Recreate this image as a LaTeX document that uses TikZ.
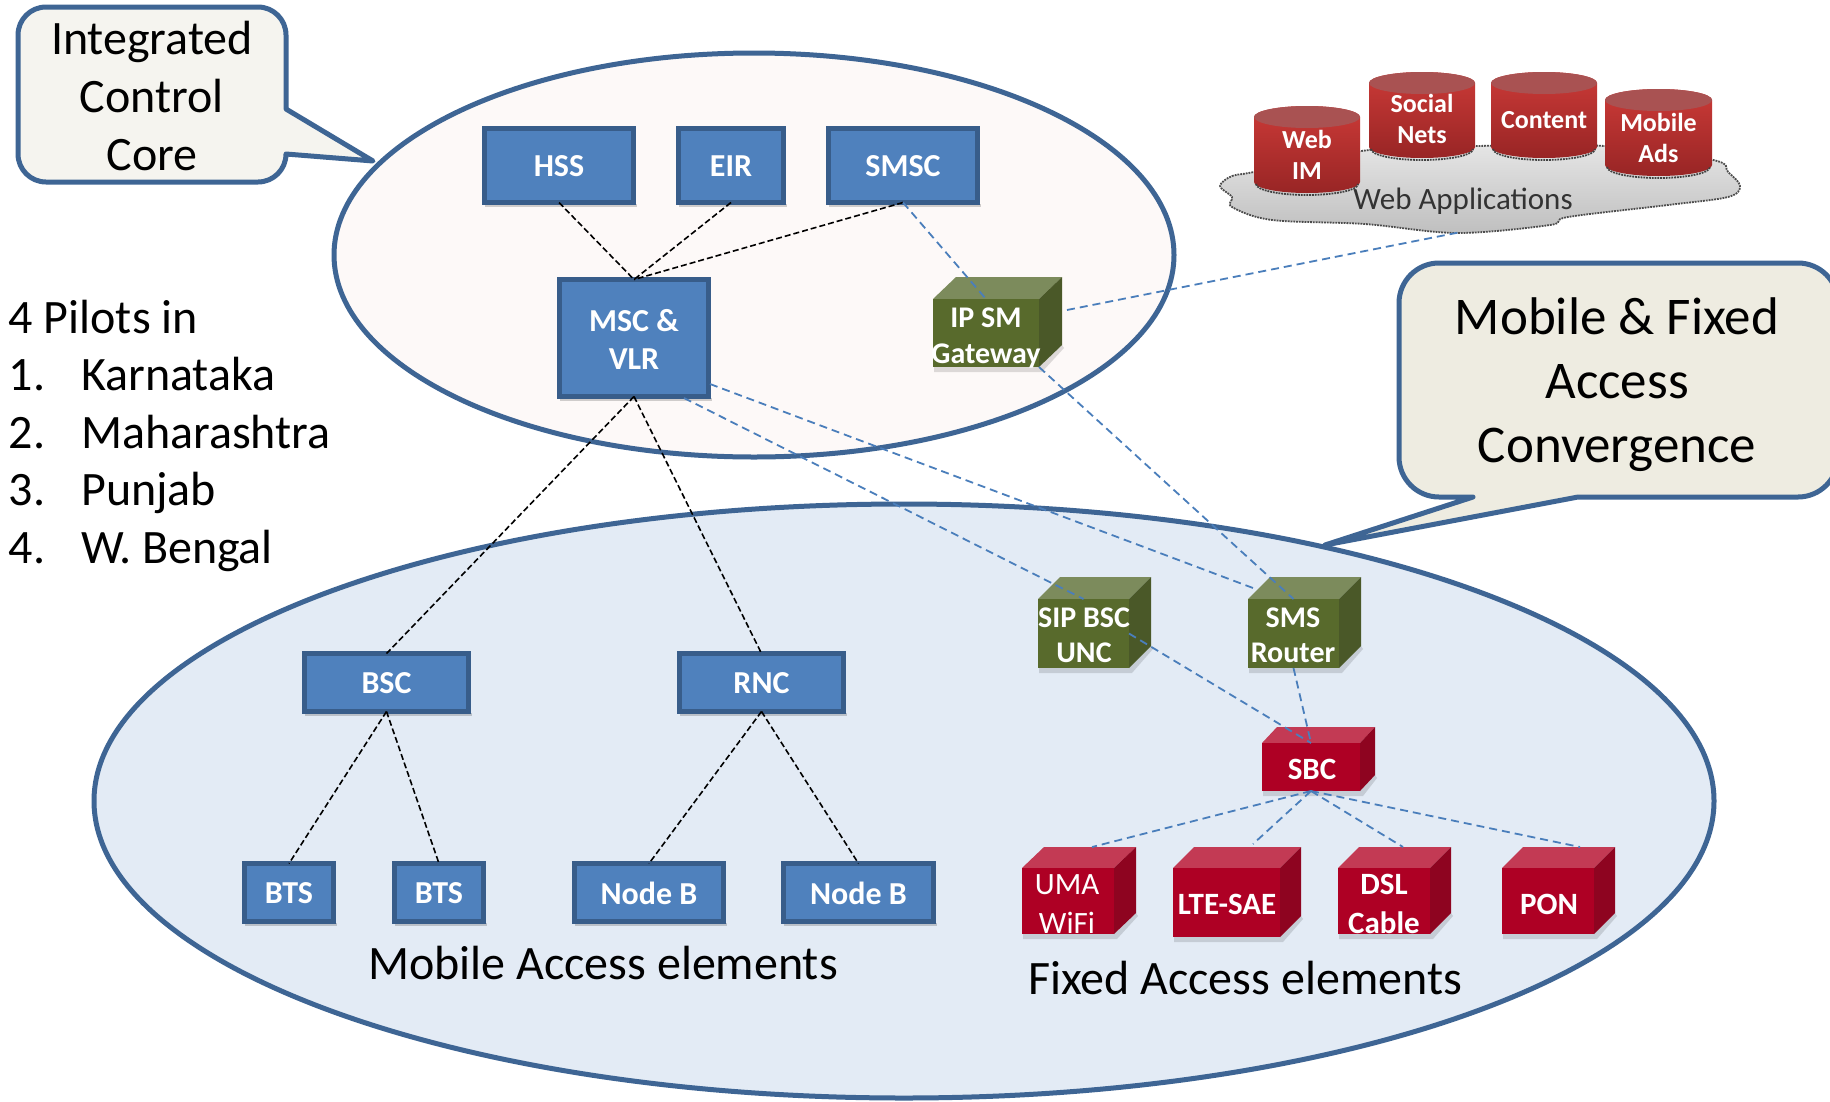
\documentclass[tikz,border=0pt]{standalone}
\usepackage{fontspec}
\setmainfont{Carlito}
\usetikzlibrary{shapes.geometric}
\definecolor{edgeblue}{HTML}{3E6594}
\definecolor{boxfill}{HTML}{4F81BD}
\definecolor{boxedge}{HTML}{385D8A}
\definecolor{linkblue}{HTML}{4A7EBB}
\definecolor{olivefront}{HTML}{586A2C}
\definecolor{olivetop}{HTML}{7C8B5C}
\definecolor{oliveside}{HTML}{4A5828}
\definecolor{redfront}{HTML}{AE0024}
\definecolor{redtop}{HTML}{C33A54}
\definecolor{redside}{HTML}{8E0420}
\definecolor{corefill}{HTML}{FDF9F8}
\definecolor{accessfill}{HTML}{E3EBF5}
\definecolor{calloutA}{HTML}{F5F4EF}
\definecolor{calloutB}{HTML}{EEECE1}
\definecolor{cylhi}{HTML}{CB3A37}
\definecolor{cyllo}{HTML}{982525}
\definecolor{cyltop}{HTML}{A95252}
\tikzset{
  zone/.style={ellipse,draw=edgeblue,line width=5pt,inner sep=0pt,outer sep=0pt},
  callout/.style={draw=edgeblue,line width=5pt,line join=round},
  bluebox/.style={draw=boxedge,fill=boxfill,line width=5pt,inner sep=0pt,outer sep=0pt},
  boxtxt/.style={text=white,inner sep=0pt,align=center,font=\fontsize{32}{38}\selectfont\bfseries},
  face/.style={inner sep=0pt,outer sep=0pt},
  greentxt/.style={text=white,align=center,inner sep=0pt,font=\fontsize{30}{35.5}\selectfont\bfseries},
  redtxt/.style={text=white,align=center,inner sep=0pt,font=\fontsize{31}{38.5}\selectfont\bfseries},
  redthin/.style={text=white,align=center,inner sep=0pt,font=\fontsize{31}{38.5}\selectfont},
  cyltxt/.style={text=white,align=center,inner sep=0pt,font=\fontsize{26}{30.5}\selectfont\bfseries},
  bigtxt/.style={inner sep=0pt,font=\fontsize{48}{58}\selectfont,align=center},
  hugetxt/.style={inner sep=0pt,font=\fontsize{53}{64}\selectfont,align=center},
  listtxt/.style={inner sep=0pt,anchor=base west,font=\fontsize{48}{58}\selectfont},
  blacklink/.style={black,line width=1.6pt,dash pattern=on 6pt off 3pt},
  bluelink/.style={linkblue,line width=1.8pt,dash pattern=on 8pt off 5pt},
}
% name x0 y0 x1 y1 text
\newcommand\boxnode[6]{%
  \fill[black,opacity=.18] (#2+2,#5) rectangle (#4+2,#5+3);
  \node[bluebox,minimum width={(#4-#2-3)*1pt},minimum height={(#5-#3-3)*1pt}] (#1)
    at ({(#2+#4)/2},{(#3+#5)/2}) {};
  \node[boxtxt] (#1T) at ({(#2+#4)/2},{(#3+#5)/2+1}) {#6};}
% name x0 y0 x1 y1 xback ytop colour-prefix
\newcommand\cubenode[8]{%
  \fill[black,opacity=.13] (#2+1,#5) -- (#2+1,#5+5) -- (#4+3,#5+5) -- (#6+2,#5+#7-#3+3) -- (#6,#5+#7-#3) -- (#4,#5) -- cycle;
  \fill[#8top] (#2,#3) -- (#2+#6-#4,#7) -- (#6,#7) -- (#4,#3) -- cycle;
  \fill[#8side] (#4,#3) -- (#6,#7) -- (#6,#5+#7-#3) -- (#4,#5) -- cycle;
  \node[face,fill=#8front,minimum width={(#4-#2)*1pt},minimum height={(#5-#3)*1pt}] (#1)
    at ({(#2+#4)/2},{(#3+#5)/2}) {};}
% name x0 y0 x1 y1 text-y text
\newcommand\cylnode[7]{%
  \path[top color=cylhi,bottom color=cyllo] (#2,#3+11) -- (#2,#5-11)
     arc[start angle=180,end angle=360,x radius={(#4-#2)/2*1pt},y radius=11pt]
     -- (#4,#3+11)
     arc[start angle=0,end angle=180,x radius={(#4-#2)/2*1pt},y radius=11pt] -- cycle;
  \fill[cyltop] ({(#2+#4)/2},#3+11) ellipse[x radius={(#4-#2)/2*1pt},y radius=11pt];
  \draw[black!75,line width=1.8pt,densely dotted] (#2+2,#5-9)
     arc[start angle=180,end angle=360,x radius={((#4-#2)/2-2)*1pt},y radius=11pt];
  \node[cyltxt] (#1) at ({(#2+#4)/2},#6) {#7};}
\begin{document}
\begin{tikzpicture}[x=1pt,y=-1pt]
\useasboundingbox (0,0) rectangle (1830,1101);
\fill[white] (0,0) rectangle (1830,1101);

% zones
\node[zone,fill=corefill,minimum width=840pt,minimum height=404pt] (core) at (754,255) {};
\node[zone,fill=accessfill,minimum width=1620pt,minimum height=594pt] (access) at (904,801) {};

% callouts
\draw[callout,fill=calloutA] (286,109) -- (286,35) arc[start angle=0,end angle=90,radius=28pt]
  -- (46,7) arc[start angle=90,end angle=180,radius=28pt]
  -- (18,154) arc[start angle=180,end angle=270,radius=28pt]
  -- (258,182) arc[start angle=270,end angle=360,radius=28pt]
  -- (373,161) -- cycle;
\node[bigtxt] (callA) at (152,96) {Integrated\\Control\\Core};
\draw[callout,fill=calloutB] (1473,497) -- (1439,497) arc[start angle=270,end angle=180,radius=40pt]
  -- (1399,303) arc[start angle=180,end angle=90,radius=40pt]
  -- (1798,263) arc[start angle=90,end angle=0,radius=40pt]
  -- (1838,457) arc[start angle=0,end angle=-90,radius=40pt]
  -- (1578,497) -- (1325,545) -- cycle;
\node[hugetxt] (callB) at (1617,384.5) {Mobile \& Fixed\\Access\\Convergence};

% pilots list
\node[listtxt] (pilots) at (8.5,333.5) {4 Pilots in};
\node[listtxt] (n1) at (8.5,390.5) {1.};
\node[listtxt] (n2) at (8.5,448.5) {2.};
\node[listtxt] (n3) at (8.5,505.5) {3.};
\node[listtxt] (n4) at (8.5,563.5) {4.};
\node[listtxt] (s1) at (81,390.5) {Karnataka};
\node[listtxt] (s2) at (81,448.5) {Maharashtra};
\node[listtxt] (s3) at (81,505.5) {Punjab};
\node[listtxt] (s4) at (81,563.5) {W. Bengal};

% web applications
\path[top color=gray!20,bottom color=gray!50,draw=black!70,line width=1.8pt,densely dotted]
  plot[smooth cycle,tension=.55] coordinates {(1220,186) (1232,176) (1254,172) (1369,150) (1476,146) (1605,146)
  (1713,160) (1728,172) (1740,186) (1728,197) (1668,205) (1568,217) (1550,225) (1457,233) (1365,224) (1272,220) (1232,207) (1232,197)};
\cylnode{webim}{1254}{106}{1360}{193}{155}{Web\\IM}
\cylnode{social}{1369}{72}{1475}{158}{119}{Social\\Nets}
\cylnode{content}{1491}{72}{1597}{158}{120}{Content}
\cylnode{ads}{1605}{89}{1712}{176}{138}{Mobile\\Ads}
\node[inner sep=0pt,text=black!80,font=\fontsize{31}{36}\selectfont] (webapps) at (1463,201) {Web Applications};

% blue boxes
\boxnode{hss}{483}{127}{635}{204}{HSS}
\boxnode{eir}{677}{127}{785}{204}{EIR}
\boxnode{smsc}{827}{127}{979}{204}{SMSC}
\boxnode{msc}{558}{278}{710}{398}{MSC \&\\VLR}
\boxnode{bsc}{303}{652}{470}{713}{BSC}
\boxnode{rnc}{678}{652}{845}{713}{RNC}
\boxnode{btsa}{243}{862}{335}{923}{BTS}
\boxnode{btsb}{393}{862}{485}{923}{BTS}
\boxnode{nodea}{573}{862}{725}{923}{Node B}
\boxnode{nodeb}{782}{862}{935}{923}{Node B}

% cubes
\cubenode{ipsm}{933}{299}{1039}{367}{1062}{277}{olive}
\cubenode{sip}{1038}{599}{1129}{668}{1151}{577}{olive}
\cubenode{sms}{1248}{599}{1339}{668}{1361}{577}{olive}
\cubenode{sbc}{1262}{743}{1360}{791}{1375}{727}{red}
\cubenode{uma}{1022}{868}{1114}{934}{1136}{847}{red}
\cubenode{lte}{1173}{868}{1280}{937}{1301}{847}{red}
\cubenode{dsl}{1338}{868}{1430}{934}{1451}{847}{red}
\cubenode{pon}{1502}{868}{1594}{934}{1615}{847}{red}

% free connector ends
\coordinate (ipsmOut) at (1067,310);
\coordinate (cloudEnd) at (1461,232);
\coordinate (mscA) at (710,384);
\coordinate (mscB) at (684,398);
\coordinate (smsIn) at (1253,588);
\coordinate (umaTop) at (1092,847);
\coordinate (lteTop) at (1253,844);
\coordinate (dslTop) at (1403,847);
\coordinate (ponTop) at (1580,847);

% black links
\draw[blacklink] (hss.south) -- (msc.north);
\draw[blacklink] (eir.south) -- (msc.north);
\draw[blacklink] (smsc.south) -- (msc.north);
\draw[blacklink] (msc.south) -- (bsc.north);
\draw[blacklink] (msc.south) -- (rnc.north);
\draw[blacklink] (bsc.south) -- (btsa.north);
\draw[blacklink] (bsc.south) -- (btsb.north);
\draw[blacklink] (rnc.south) -- (nodea.north);
\draw[blacklink] (rnc.south) -- (nodeb.north);

% blue links
\draw[bluelink] (smsc.south) -- (ipsm.north);
\draw[bluelink] (ipsmOut) -- (cloudEnd);
\draw[bluelink] (ipsm.south east) -- (sms.north);
\draw[bluelink] (mscA) -- (smsIn);
\draw[bluelink] (mscB) -- (sip.north);
\draw[bluelink] (sip.east) -- (sbc.north);
\draw[bluelink] (sms.south) -- (sbc.north);
\draw[bluelink] (sbc.south) -- (umaTop);
\draw[bluelink] (sbc.south) -- (lteTop);
\draw[bluelink] (sbc.south) -- (dslTop);
\draw[bluelink] (sbc.south) -- (ponTop);

% cube texts
\node[greentxt] (ipsmT) at (986,338) {IP SM\\Gateway};
\node[greentxt] (sipT) at (1084,635.5) {SIP BSC\\UNC};
\node[greentxt] (smsT) at (1293,635.5) {SMS\\Router};
\node[redtxt] (sbcT) at (1312,769) {SBC};
\node[redthin] (umaT) at (1067,904) {UMA\\WiFi};
\node[redtxt] (lteT) at (1227,904) {LTE-SAE};
\node[redtxt] (dslT) at (1384,904) {DSL\\Cable};
\node[redtxt] (ponT) at (1549,904) {PON};

% captions
\node[bigtxt] (mobcap) at (603,963) {Mobile Access elements};
\node[bigtxt] (fixcap) at (1245,978) {Fixed Access elements};
\end{tikzpicture}
\end{document}
